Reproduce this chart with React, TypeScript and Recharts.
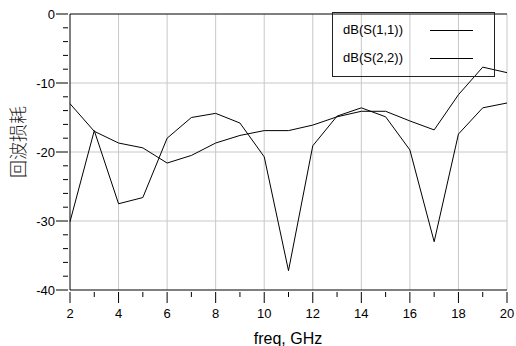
import { LineChart, Line, XAxis, YAxis, CartesianGrid, ReferenceLine, Legend } from 'recharts';

const freqs = [2, 3, 4, 5, 6, 7, 8, 9, 10, 11, 12, 13, 14, 15, 16, 17, 18, 19, 20];
const s11 = [-13.0, -17.0, -18.7, -19.4, -21.6, -20.5, -18.7, -17.6, -16.9, -16.9, -16.1, -14.9, -14.1, -14.1, -15.5, -16.8, -11.7, -7.7, -8.5];
const s22 = [-30.1, -16.9, -27.5, -26.6, -18.0, -15.0, -14.4, -15.8, -20.7, -37.2, -19.1, -14.8, -13.6, -14.9, -19.7, -33.0, -17.4, -13.6, -12.9];
const seriesNames = ['dB(S(1,1))', 'dB(S(2,2))'];

const xTicks = [2, 3, 4, 5, 6, 7, 8, 9, 10, 11, 12, 13, 14, 15, 16, 17, 18, 19, 20];
const xGrid = [4, 6, 8, 10, 12, 14, 16, 18, 20];
const yTicks = [0, -2, -4, -6, -8, -10, -12, -14, -16, -18, -20, -22, -24, -26, -28, -30, -32, -34, -36, -38, -40];
const yGrid = [-10, -20, -30];

const data = freqs.map((f, i) => ({ f, s11: s11[i], s22: s22[i] }));

const font = '"Liberation Sans", Arial, sans-serif';

function XTick(props: any) {
  const { x, y, payload } = props;
  const major = payload.value % 2 === 0;
  return (
    <g>
      <line x1={x} x2={x} y1={y} y2={y + (major ? 11 : 5)} stroke="#000" />
      {major && (
        <text x={x} y={y + 26} textAnchor="middle" fontSize={13} fontFamily={font} fill="#000" stroke="none">
          {payload.value}
        </text>
      )}
    </g>
  );
}

function YTick(props: any) {
  const { x, y, payload } = props;
  const major = payload.value % 10 === 0;
  return (
    <g>
      <line x1={x} x2={x - (major ? 12 : 5)} y1={y} y2={y} stroke="#000" />
      {major && (
        <text x={x - 13} y={y + 5} textAnchor="end" fontSize={13} fontFamily={font} fill="#000" stroke="none">
          {payload.value}
        </text>
      )}
    </g>
  );
}

function YLabel() {
  return (
    <text transform="translate(17,142) rotate(-90)" textAnchor="middle" dominantBaseline="central"
      fontSize={18} fontFamily='"Noto Sans CJK SC", sans-serif' fontWeight={300} fill="#222" stroke="none">
      回波损耗
    </text>
  );
}

function XLabel() {
  return (
    <text x={288} y={344} textAnchor="middle" fontSize={16} fontFamily={font} fill="#000" stroke="none">
      freq, GHz
    </text>
  );
}

function LegendBox() {
  return (
    <div style={{ width: 163, height: 65, border: '1px solid #222', boxSizing: 'border-box', position: 'relative', fontFamily: font, fontSize: 13 }}>
      {seriesNames.map((n, i) => (
        <div key={n} style={{ position: 'absolute', left: 10, top: 9 + i * 27.5, lineHeight: '16px', whiteSpace: 'nowrap' }}>
          {n}
          <span style={{ position: 'absolute', left: 87, top: 8, width: 43, borderTop: '1px solid #000' }} />
        </div>
      ))}
    </div>
  );
}

export default function App() {
  return (
    <div style={{ position: 'absolute', left: 0, top: 0, width: 516, height: 346, background: '#fff' }}>
      <LineChart width={516} height={346} data={data} margin={{ top: 14, right: 9, left: 0, bottom: 0 }}>
        <CartesianGrid stroke="#c8c8c8" verticalValues={xGrid} horizontalValues={yGrid} />
        <XAxis
          dataKey="f"
          type="number"
          domain={[2, 20]}
          ticks={xTicks}
          interval={0}
          height={56}
          tickSize={0}
          tickLine={false}
          tick={<XTick />}
          stroke="#000"
          label={<XLabel />}
        />
        <YAxis
          type="number"
          domain={[-40, 0]}
          ticks={yTicks}
          interval={0}
          width={70}
          tickSize={0}
          tickLine={false}
          tick={<YTick />}
          stroke="#000"
          label={<YLabel />}
        />
        <ReferenceLine y={0} stroke="#000" />
        <Legend
          layout="vertical"
          verticalAlign="middle"
          align="center"
          content={<LegendBox />}
          wrapperStyle={{ left: 332, top: 12, width: 163 }}
        />
        <Line dataKey="s11" name={seriesNames[0]} stroke="#000" strokeWidth={1} dot={false} isAnimationActive={false} />
        <Line dataKey="s22" name={seriesNames[1]} stroke="#000" strokeWidth={1} dot={false} isAnimationActive={false} />
      </LineChart>
    </div>
  );
}
